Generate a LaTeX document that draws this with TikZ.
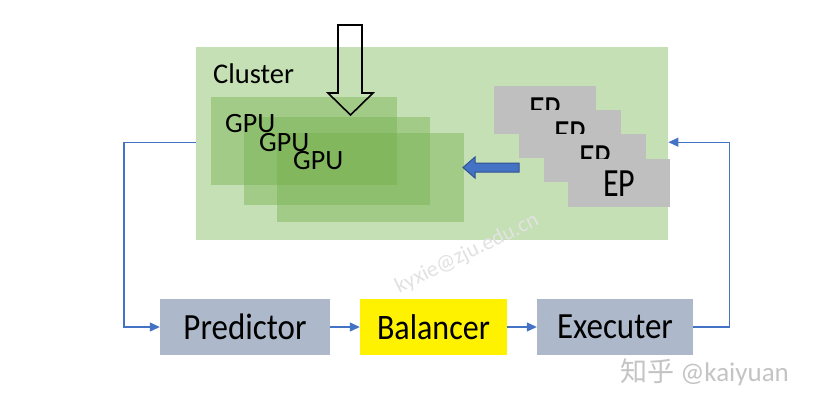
\documentclass[tikz,border=0pt]{standalone}
\usepackage{fontspec}
\setmainfont{Carlito}
\newfontfamily\cjkfont{Noto Sans CJK SC}
\usetikzlibrary{arrows.meta}
\definecolor{clusterbg}{HTML}{C5E0B4}
\definecolor{gpugreen}{HTML}{70AD47}
\definecolor{epgray}{HTML}{BFBFBF}
\definecolor{boxgray}{HTML}{ADB9CA}
\definecolor{linkblue}{HTML}{4472C4}
\definecolor{darkblue}{HTML}{2F528F}
\definecolor{wmgray}{HTML}{E2E2E2}
\definecolor{wmgray2}{HTML}{C4C4C4}
\begin{document}
\begin{tikzpicture}[x=1pt,y=-1pt,
  box/.style={rectangle,inner sep=0pt,anchor=north west},
  gpubox/.style={box,fill=gpugreen,fill opacity=0.4,minimum width=186pt,minimum height=88pt},
  epbox/.style={box,fill=epgray,minimum width=102pt,minimum height=48pt},
  flowbox/.style={rectangle,inner sep=0pt,minimum height=56pt},
  label/.style={inner sep=0pt,anchor=base west},
  link/.style={draw=linkblue,line width=1.1pt},
  tip/.style={-{Triangle[length=10pt,width=9pt]}}
]
\useasboundingbox (0,0) rectangle (814,408);
\fill[white] (0,0) rectangle (814,408);

% cluster
\node[box,fill=clusterbg,minimum width=472pt,minimum height=193pt] (cluster) at (196,47) {};
\node[label,font=\fontsize{28.5}{30}\selectfont] (cltext) at (213,83) {Cluster};

% GPU boxes
\node[gpubox] (gpu1) at (211,97) {};
\node[gpubox] (gpu2) at (244,117) {};
\node[gpubox,minimum width=187pt,minimum height=89pt] (gpu3) at (277,133) {};
\node[label,font=\fontsize{28}{30}\selectfont] (g1) at (225,132) {GPU};
\node[label,font=\fontsize{28}{30}\selectfont] (g2) at (259,151) {GPU};
\node[label,font=\fontsize{28}{30}\selectfont] (g3) at (293,169) {GPU};

% EP boxes
\node[epbox] (ep1) at (494,86) {};
\node (ept1) at (ep1.center) {\scalebox{1}[1.25]{\fontsize{32}{34}\selectfont EP}};
\node[epbox] (ep2) at (519,110) {};
\node (ept2) at (ep2.center) {\scalebox{1}[1.25]{\fontsize{32}{34}\selectfont EP}};
\node[epbox] (ep3) at (544,134) {};
\node (ept3) at (ep3.center) {\scalebox{1}[1.25]{\fontsize{32}{34}\selectfont EP}};
\node[epbox] (ep4) at (568,159) {};
\node (ept4) at (ep4.center) {\scalebox{1}[1.25]{\fontsize{32}{34}\selectfont EP}};

% hollow down arrow
\draw[black,line width=1.6pt,line join=miter] (338,25) -- (362,25) -- (362,93) -- (373,93) -- (350.5,115) -- (328,93) -- (338,93) -- cycle;

% blue block arrow
\draw[fill=linkblue,draw=darkblue,line width=1pt,line join=miter] (519,163) -- (475,163) -- (475,157) -- (463,167.5) -- (475,178) -- (475,172) -- (519,172) -- cycle;

% bottom flow boxes
\node[flowbox,fill=boxgray,minimum width=170pt] (pred) at (245,327) {\scalebox{1}[1.12]{\fontsize{33}{36}\selectfont Predictor}};
\node[flowbox,fill=yellow,minimum width=147pt] (bal) at (433.5,327) {\scalebox{1}[1.12]{\fontsize{32}{36}\selectfont Balancer}};
\node[flowbox,fill=boxgray,minimum width=156pt] (exec) at (615,327) {\scalebox{1}[1.12]{\fontsize{33}{36}\selectfont Executer}};

% connectors
\draw[link,tip] (pred.east) -- (bal.west);
\draw[link,tip] (bal.east) -- (exec.west);
\draw[link,tip] ([yshift=1.5pt]cluster.west) -- ++(-72,0) |- (pred.west);
\draw[link,tip] (exec.east) -- ++(36,0) |- ([yshift=1.5pt]cluster.east);

% watermarks
\node[text=wmgray,rotate=26,inner sep=0pt,font=\fontsize{22}{24}\selectfont] (wm1) at (467,254) {kyxie@zju.edu.cn};
\node[text=wmgray2,anchor=west,inner sep=0pt,font=\fontsize{27}{29}\selectfont] (wm2) at (620,372) {{\cjkfont 知乎} @kaiyuan};
\end{tikzpicture}
\end{document}
